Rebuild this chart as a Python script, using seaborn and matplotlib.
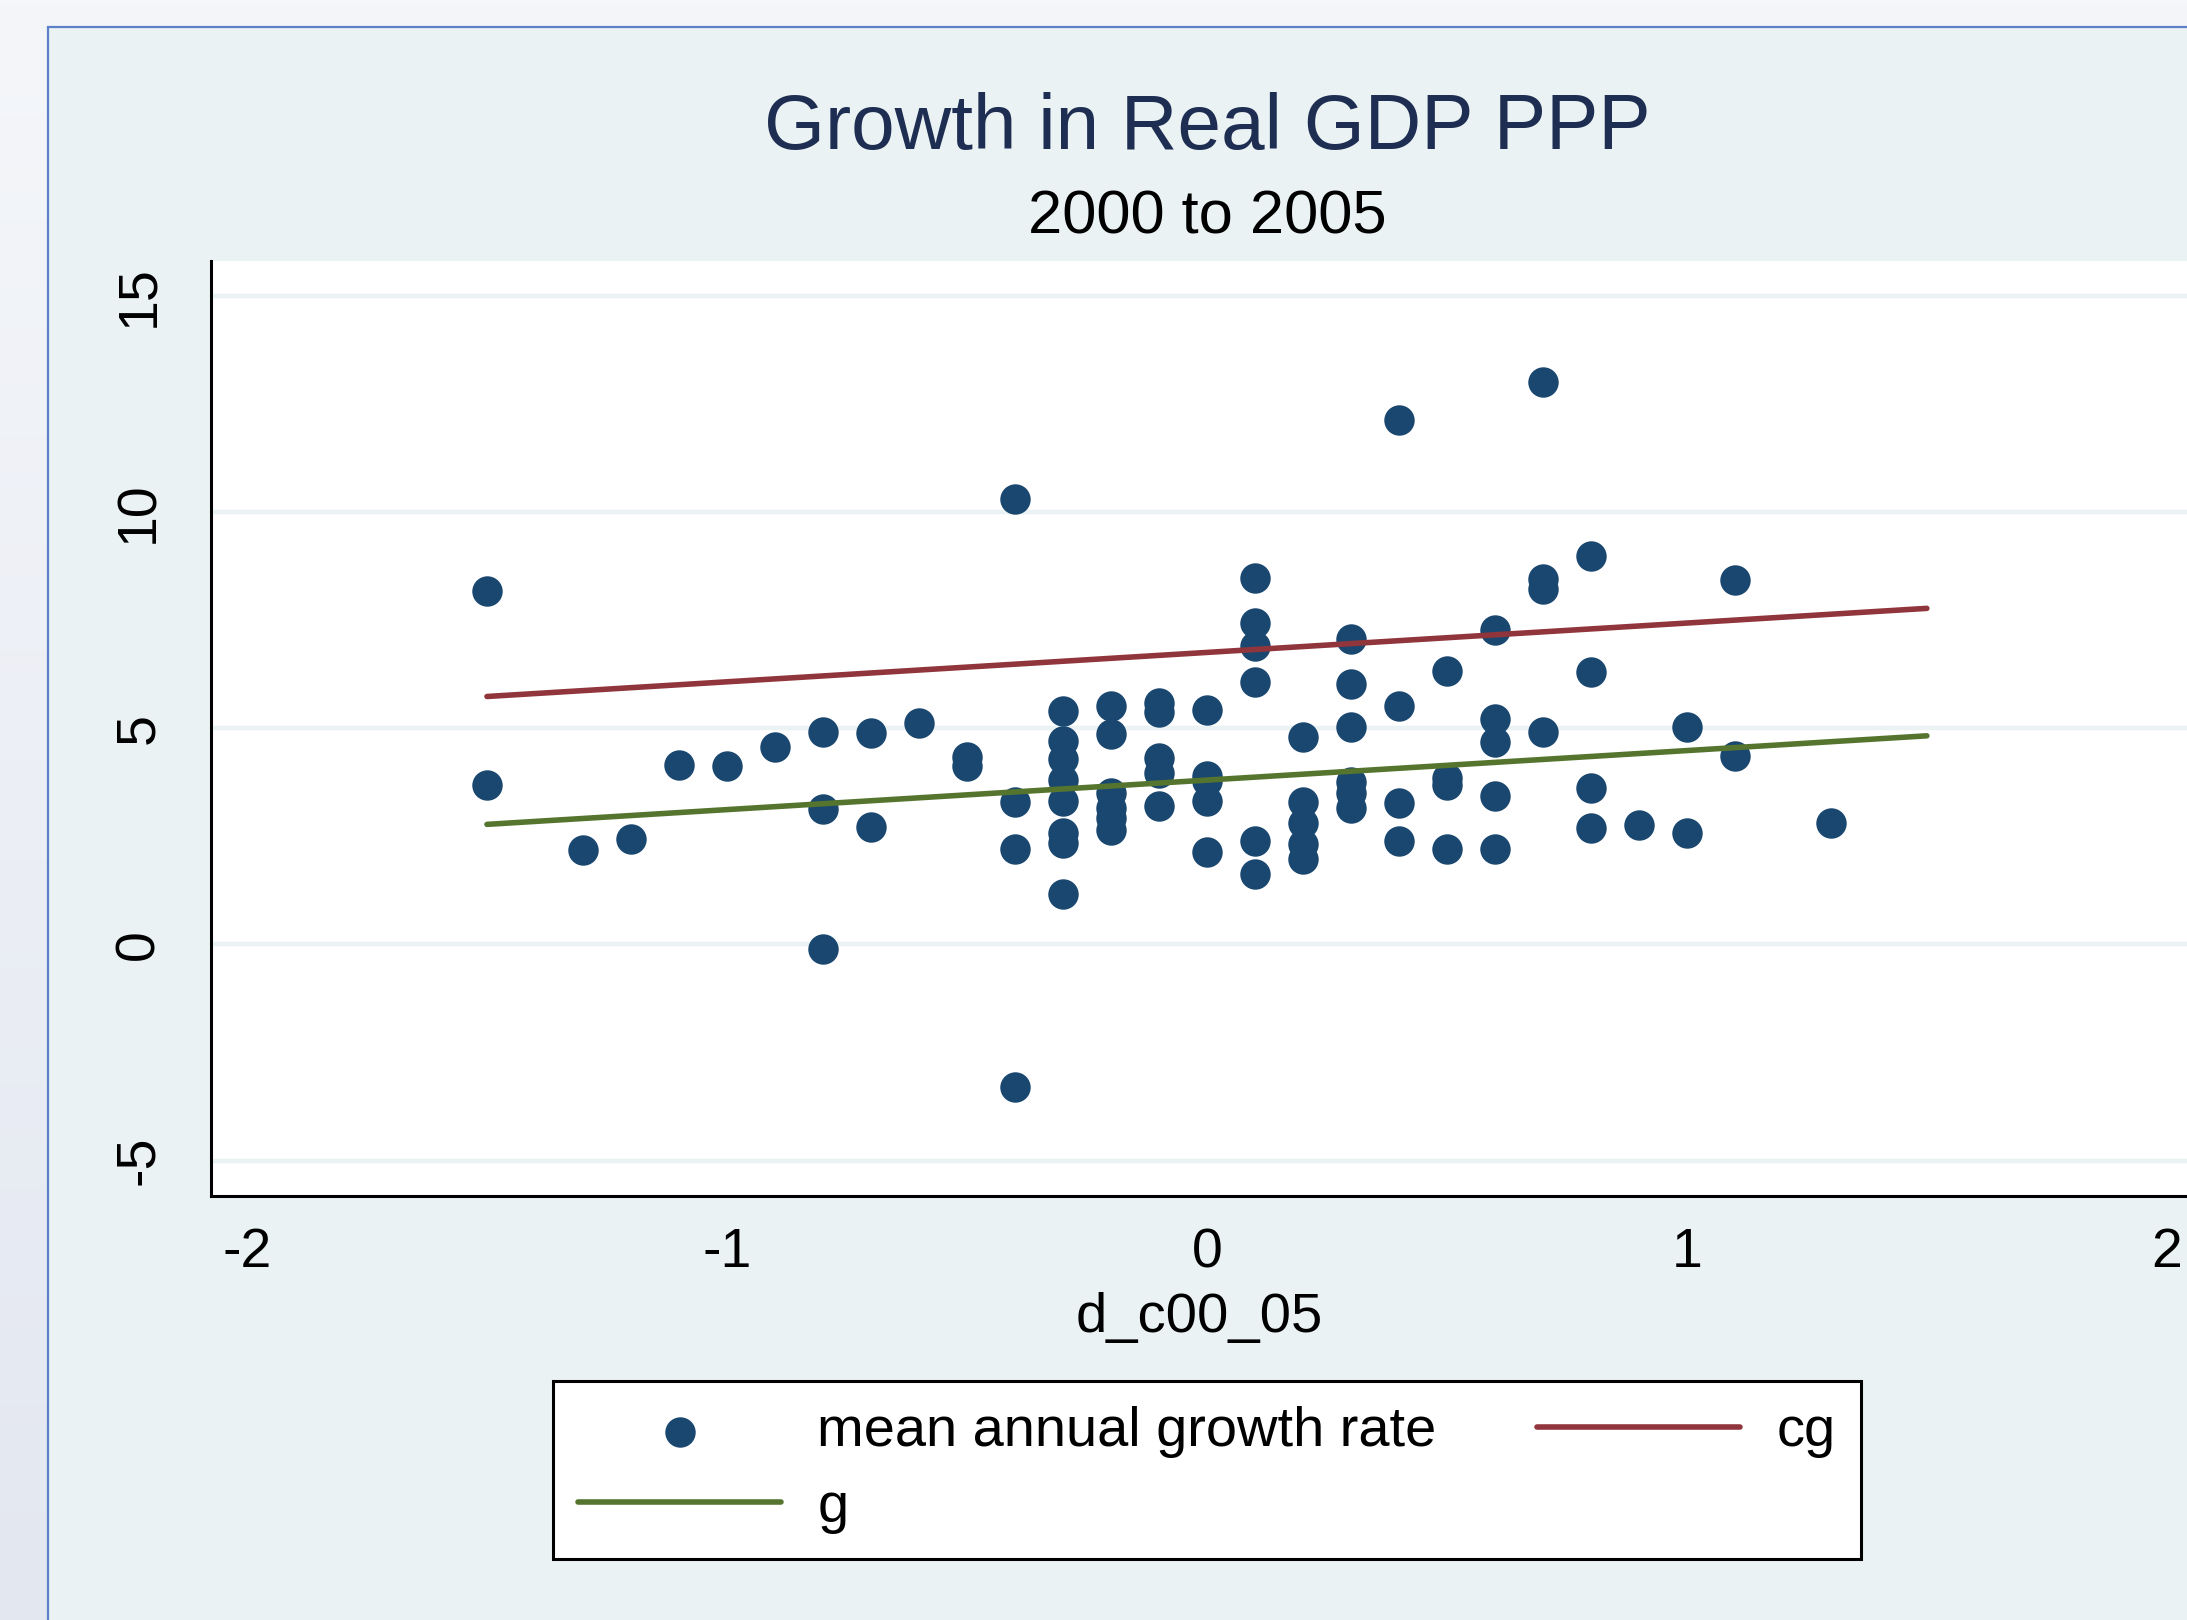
import numpy as np
import pandas as pd
import matplotlib
matplotlib.use("Agg")
import matplotlib.pyplot as plt
from matplotlib.patches import Rectangle
import seaborn as sns

# ---- data -----------------------------------------------------------------
d_c00_05 = [
    -1.5, -1.5,
    -1.3,
    -1.2,
    -1.1,
    -1.0,
    -0.9,
    -0.8, -0.8, -0.8,
    -0.7, -0.7,
    -0.6,
    -0.5, -0.5,
    -0.4, -0.4, -0.4, -0.4,
    -0.3, -0.3, -0.3, -0.3, -0.3, -0.3, -0.3, -0.3,
    -0.2, -0.2, -0.2, -0.2, -0.2, -0.2,
    -0.1, -0.1, -0.1, -0.1, -0.1,
    0.0, 0.0, 0.0, 0.0, 0.0,
    0.1, 0.1, 0.1, 0.1, 0.1, 0.1,
    0.2, 0.2, 0.2, 0.2, 0.2,
    0.3, 0.3, 0.3, 0.3, 0.3, 0.3,
    0.4, 0.4, 0.4, 0.4,
    0.5, 0.5, 0.5, 0.5,
    0.6, 0.6, 0.6, 0.6, 0.6,
    0.7, 0.7, 0.7, 0.7,
    0.8, 0.8, 0.8, 0.8,
    0.9,
    1.0, 1.0,
    1.1, 1.1,
    1.3,
]
growth = [
    8.18, 3.70,
    2.18,
    2.44,
    4.16,
    4.13,
    4.58,
    4.91, 3.14, -0.11,
    4.89, 2.73,
    5.12,
    4.33, 4.13,
    10.31, 3.30, 2.21, -3.31,
    5.40, 4.71, 4.30, 3.80, 3.32, 2.57, 2.34, 1.18,
    5.53, 4.87, 3.51, 3.15, 2.93, 2.66,
    5.58, 5.37, 4.31, 3.98, 3.20,
    5.43, 3.90, 3.78, 3.32, 2.14,
    8.49, 7.45, 6.91, 6.08, 2.39, 1.62,
    4.81, 3.30, 2.82, 2.32, 1.98,
    7.08, 6.04, 5.03, 3.75, 3.51, 3.15,
    12.15, 5.52, 3.27, 2.39,
    6.34, 3.86, 3.68, 2.21,
    7.28, 5.21, 4.69, 3.44, 2.22,
    13.02, 8.47, 8.23, 4.92,
    8.99, 6.30, 3.62, 2.70,
    2.76,
    5.04, 2.57,
    8.43, 4.37,
    2.82,
]

# fitted lines
line_x = [-1.5, 1.5]
cg = [5.74, 7.78]
g = [2.78, 4.83]

x_ticks = [-2, -1, 0, 1, 2]
y_ticks = [-5, 0, 5, 10, 15]

# ---- style ----------------------------------------------------------------
sns.set_style("white")
plt.rcParams["font.family"] = ["Liberation Sans", "DejaVu Sans"]
plt.rcParams["text.color"] = "black"
plt.rcParams["axes.labelcolor"] = "black"
plt.rcParams["xtick.color"] = "black"
plt.rcParams["ytick.color"] = "black"

NAVY = "#1a476f"
MAROON = "#90353b"
GREEN = "#55752f"
REGION = "#eaf2f3"

W, H = 2187, 1620
fig = plt.figure(figsize=(W / 100, H / 100), dpi=100)

# background with a soft gradient and the graph region box
bg = fig.add_axes([0, 0, 1, 1], zorder=-10)
bg.set_xlim(0, W)
bg.set_ylim(H, 0)
bg.axis("off")
grad = np.linspace(0, 1, 256).reshape(-1, 1)
top_c = np.array([0xf4, 0xf6, 0xfa]) / 255
bot_c = np.array([0xe3, 0xe7, 0xf0]) / 255
img = top_c[None, None, :] * (1 - grad[..., None]) + bot_c[None, None, :] * grad[..., None]
bg.imshow(img, extent=[0, W, H, 0], aspect="auto")
bg.add_patch(Rectangle((48, 27), W, H, facecolor=REGION,
                       edgecolor="#5b7fc8", linewidth=1.6))

# ---- main plot ------------------------------------------------------------
left_px, top_px, bottom_px = 211, 261, 1195.5
ax = fig.add_axes([left_px / W, 1 - bottom_px / H, 1 - left_px / W,
                   (bottom_px - top_px) / H])
ax.set_facecolor("white")

for yt in y_ticks:
    ax.axhline(yt, color=REGION, lw=3.2, zorder=0)

df = pd.DataFrame({"d_c00_05": d_c00_05, "growth": growth})
sns.scatterplot(data=df, x="d_c00_05", y="growth", ax=ax, s=480,
                color=NAVY, linewidth=0, label="mean annual growth rate",
                zorder=3)
sns.lineplot(x=line_x, y=cg, ax=ax, color=MAROON, linewidth=4.0, label="cg",
             errorbar=None, zorder=4)
sns.lineplot(x=line_x, y=g, ax=ax, color=GREEN, linewidth=4.0, label="g",
             errorbar=None, zorder=4)

ax.set_xlim(-2.075, 2.042)
ax.set_ylim(-5.81, 15.82)
ax.set_xticks(x_ticks)
ax.set_yticks(y_ticks)
ax.set_xticklabels([f"{t:g}" for t in x_ticks])
ax.set_yticklabels([f"{t:g}" for t in y_ticks], rotation=90, va="center")
ax.tick_params(axis="both", direction="out", length=15, width=1.6,
               labelsize=40, color="black", labelcolor="black")
ax.tick_params(axis="x", pad=8)
ax.tick_params(axis="y", pad=18)
for s in ("top", "right"):
    ax.spines[s].set_visible(False)
for s in ("left", "bottom"):
    ax.spines[s].set_color("black")
    ax.spines[s].set_linewidth(2.2)
ax.set_xlabel("d_c00_05", fontsize=40.5, labelpad=9, color="black")
ax.set_ylabel("")

# titles
fig.text(1207 / W, 1 - 149 / H, "Growth in Real GDP PPP", fontsize=56.4,
         color="#1e2d52", ha="center", va="baseline")
fig.text(1207 / W, 1 - 234 / H, "2000 to 2005", fontsize=44.2,
         color="black", ha="center", va="baseline")

# legend below the plot
handles, labels = ax.get_legend_handles_labels()
ax.get_legend().remove()
order = [labels.index("mean annual growth rate"), labels.index("g"),
         labels.index("cg")]
leg = fig.legend([handles[i] for i in order], [labels[i] for i in order],
                 ncol=2, loc="center",
                 bbox_to_anchor=(1207 / W, 1 - 1470 / H),
                 bbox_transform=fig.transFigure,
                 fontsize=40.3, frameon=True, fancybox=False,
                 handlelength=3.62, handletextpad=0.65, columnspacing=1.8,
                 borderpad=0.45, labelspacing=0.42)
for t in leg.get_texts():
    t.set_color("black")
frame = leg.get_frame()
frame.set_edgecolor("black")
frame.set_linewidth(2.2)
frame.set_facecolor("white")
frame.set_alpha(1)

fig.savefig("out.png", dpi=100)
